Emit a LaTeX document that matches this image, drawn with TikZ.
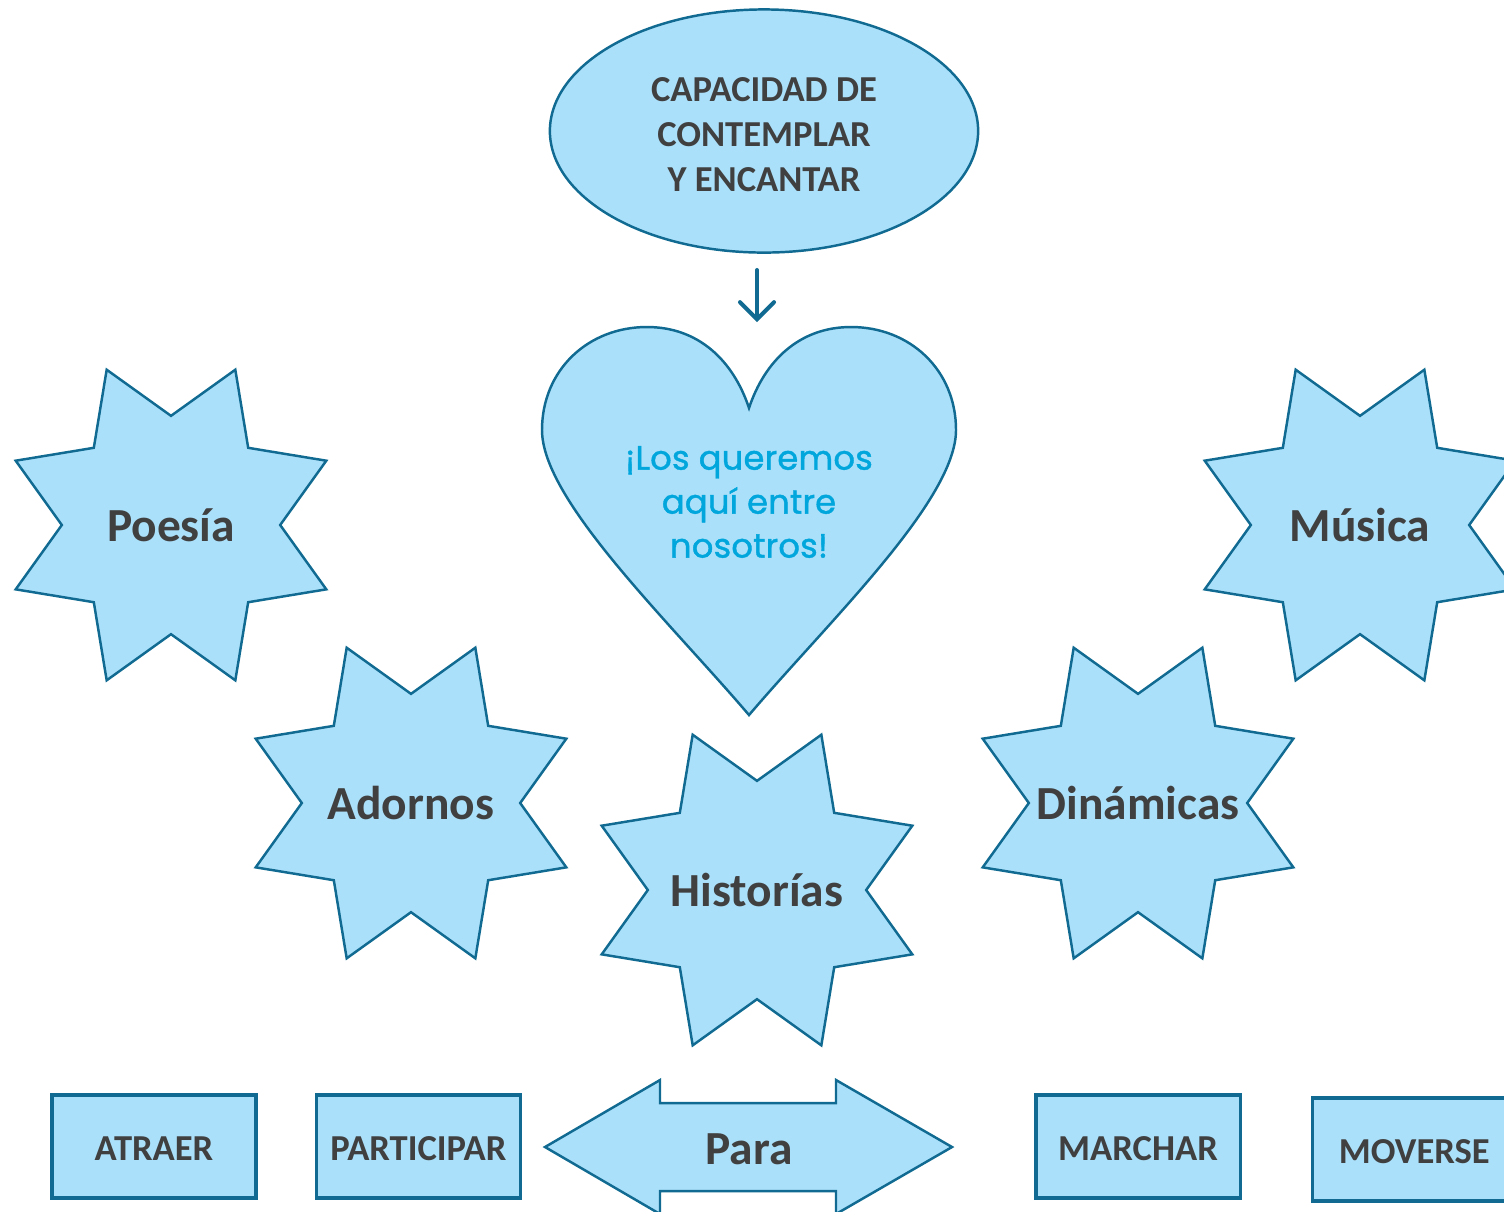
\documentclass[tikz,border=0pt]{standalone}
\usepackage{fontspec}
\setmainfont{Carlito}
\newfontfamily\heartfont{Poppins}[FakeBold=1.2]
\usetikzlibrary{
        arrows.meta,
        positioning,
        shapes.geometric
    }
\definecolor{skyfill}{RGB}{171,224,250}
\definecolor{edgeblue}{RGB}{16,106,145}
\definecolor{inkgray}{RGB}{64,64,64}
\definecolor{heartblue}{RGB}{0,166,220}
\newcommand{\starlabel}[1]{\makebox[0pt]{#1}}
\tikzset{>={Straight Barb[length=1.7mm,width=3.4mm,line cap=round]}}
\tikzset{
    shapebase/.style={draw=edgeblue,fill=skyfill,line width=0.7pt,text=inkgray,inner sep=0pt},
    starnode/.style={shapebase,star,star points=8,star point ratio=1.54,shape border rotate=22.5,
        minimum size=3.36cm,font=\fontsize{13.5}{16}\selectfont\bfseries},
    ideanode/.style={shapebase,ellipse,minimum width=4.28cm,minimum height=2.43cm},
    ideatext/.style={text=inkgray,align=center,font=\fontsize{10.4}{12.8}\selectfont\bfseries},
    verbbox/.style={shapebase,rectangle,line width=0.9pt,minimum width=2.04cm,minimum height=1.03cm,
        text height=8.1pt,text depth=0pt,font=\fontsize{10.4}{12.8}\selectfont\bfseries}
}

\begin{document}
\begin{tikzpicture}[x=0.01cm,y=-0.01cm]
    \useasboundingbox (0,0) rectangle (1504,1211);
    % top idea
    \node[ideanode] (idea) at (764,131) {};
    \node[ideatext] (ideatxt) at (764,135) {CAPACIDAD DE\\CONTEMPLAR\\Y ENCANTAR};
    \coordinate (tail) at (757,270);
    \coordinate (tip) at (757,322);
    \draw[->,edgeblue,line width=1.15pt,line cap=round] (tail) -- (tip);
    % heart
    \draw[shapebase] (749,408) .. controls (765,360) and (800,327) .. (851,327)
        .. controls (910,327) and (956,370) .. (956,430)
        .. controls (956,500) and (830,620) .. (749,715)
        .. controls (668,620) and (542,500) .. (542,430)
        .. controls (542,370) and (588,327) .. (647,327)
        .. controls (698,327) and (733,360) .. (749,408) -- cycle;
    \node[text=heartblue,align=center,font=\heartfont\fontsize{9.6}{12.5}\selectfont\addfontfeatures{LetterSpace=0.5}]
        (love) at (749,502) {¡Los queremos\\aquí entre\\nosotros!};
    % stars
    \node[starnode] (poesia)    at (171,525)  {\starlabel{Poesía}};
    \node[starnode] (musica)    at (1360,525) {\starlabel{Música}};
    \node[starnode] (adornos)   at (411,803)  {\starlabel{Adornos}};
    \node[starnode] (dinamicas) at (1138,803) {\starlabel{Dinámicas}};
    \node[starnode] (historias) at (757,890)  {\starlabel{Historías}};
    % bottom row
    \draw[shapebase] (545,1147) -- (660,1080) -- (660,1103) -- (836,1103) -- (836,1080) -- (952,1147)
        -- (836,1214) -- (836,1191) -- (660,1191) -- (660,1214) -- cycle;
    \node[text=inkgray,font=\fontsize{13.5}{16}\selectfont\bfseries] (para) at (749,1149) {Para};
    \node[verbbox] (atraer) at (154,1146.5) {ATRAER};
    \node[verbbox] (participar) [right=0.57cm of atraer] {PARTICIPAR};
    \node[verbbox] (marchar) at (1138,1146.5) {MARCHAR};
    \node[verbbox] (moverse) [right=0.69cm of marchar,yshift=-0.03cm] {MOVERSE};
\end{tikzpicture}
\end{document}
